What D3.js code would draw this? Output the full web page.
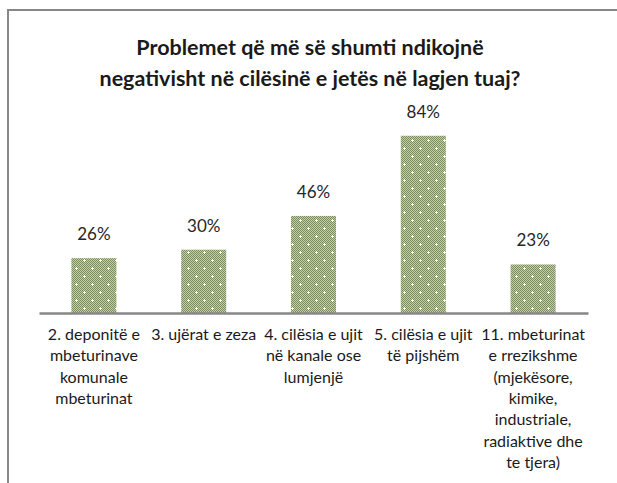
<!DOCTYPE html>
<html>
<head>
<meta charset="utf-8">
<script src="https://cdn.jsdelivr.net/npm/d3@7"></script>
<style>
  body { margin: 0; background: #fff; }
  svg { display: block; }
</style>
</head>
<body>
<svg id="chart"></svg>
<script>
// data
const title = ['Problemet që më së shumti ndikojnë', 'negativisht në cilësinë e jetës në lagjen tuaj?']
const categories = [
  '2. deponitë e\nmbeturinave\nkomunale\nmbeturinat',
  '3. ujërat e zeza',
  '4. cilësia e ujit\nnë kanale ose\nlumjenjë',
  '5. cilësia e ujit\ntë pijshëm',
  '11. mbeturinat\ne rrezikshme\n(mjekësore,\nkimike,\nindustriale,\nradiaktive dhe\nte tjera)'
]
const values = [26, 30, 46, 84, 23]

const w = 617
const h = 483
const svg = d3.select('#chart')
  .attr('width', w)
  .attr('height', h)

// pattern fill (green checker with white dots)
const defs = svg.append('defs')
const pat = defs.append('pattern')
  .attr('id', 'dots')
  .attr('patternUnits', 'userSpaceOnUse')
  .attr('width', 16)
  .attr('height', 16)
pat.append('rect').attr('width', 16).attr('height', 16).attr('fill', '#7a8d5d')
for (let i = 0; i < 16; i += 2) {
  for (let j = 0; j < 16; j += 2) {
    pat.append('rect').attr('x', i + 1).attr('y', j).attr('width', 1).attr('height', 1).attr('fill', '#c3cdb1')
    pat.append('rect').attr('x', i).attr('y', j + 1).attr('width', 1).attr('height', 1).attr('fill', '#c3cdb1')
  }
}
;[[4, 4], [12, 12]].forEach(([cx, cy]) => {
  pat.append('rect').attr('x', cx - 1).attr('y', cy).attr('width', 3).attr('height', 1).attr('fill', '#fff')
  pat.append('rect').attr('x', cx).attr('y', cy - 1).attr('width', 1).attr('height', 3).attr('fill', '#fff')
})

// frame
svg.append('path')
  .attr('d', `M8,${h} L8,10 L${w},10`)
  .attr('fill', 'none')
  .attr('stroke', '#878787')
  .attr('stroke-width', 2)

// scales
const xScale = d3.scaleBand()
  .domain(categories)
  .range([39, 588])
  .paddingInner(0.59)
  .paddingOuter(0.295)
const yScale = d3.scaleLinear()
  .domain([0, 100])
  .range([313, 102])

// title
svg.append('text')
  .attr('text-anchor', 'middle')
  .attr('font-family', 'Lato, sans-serif')
  .attr('font-weight', 'bold')
  .attr('font-size', 21.5)
  .attr('fill', '#1a1a1a')
  .selectAll('tspan')
  .data(title)
  .join('tspan')
  .attr('x', 310)
  .attr('y', (d, i) => 55 + i * 31)
  .text(d => d)

// bars
svg.selectAll('.bar')
  .data(values)
  .join('rect')
  .attr('class', 'bar')
  .attr('x', (d, i) => xScale(categories[i]))
  .attr('y', d => yScale(d))
  .attr('width', xScale.bandwidth())
  .attr('height', d => yScale(0) - yScale(d))
  .attr('fill', 'url(#dots)')

// value labels
svg.selectAll('.val')
  .data(values)
  .join('text')
  .attr('class', 'val')
  .attr('x', (d, i) => xScale(categories[i]) + xScale.bandwidth() / 2)
  .attr('y', d => yScale(d) - 18)
  .attr('text-anchor', 'middle')
  .attr('font-family', 'Lato, sans-serif')
  .attr('font-size', 17)
  .attr('fill', '#262626')
  .text(d => d + '%')

// x axis
const xAxis = d3.axisBottom(xScale).tickSize(0).tickFormat('')
const gx = svg.append('g')
  .attr('transform', `translate(0,${yScale(0)})`)
  .call(xAxis)
gx.select('.domain').attr('stroke', '#878787').attr('stroke-width', 2.5)

// category labels
const lab = svg.append('g')
  .attr('font-family', 'Lato, sans-serif')
  .attr('font-size', 16)
  .attr('fill', '#1a1a1a')
  .attr('text-anchor', 'middle')
lab.selectAll('text')
  .data(categories)
  .join('text')
  .each(function (d) {
    const cx = xScale(d) + xScale.bandwidth() / 2
    d3.select(this).selectAll('tspan')
      .data(d.split('\n'))
      .join('tspan')
      .attr('x', cx)
      .attr('y', (t, i) => 340 + i * 21.3)
      .text(t => t)
  })
</script>
</body>
</html>
